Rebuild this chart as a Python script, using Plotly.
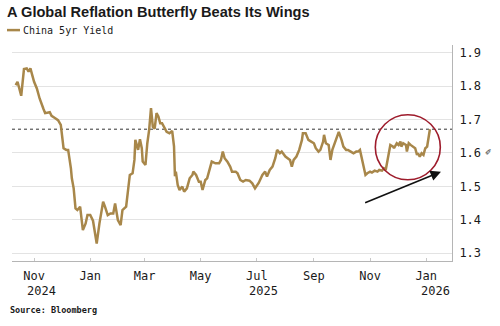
import plotly.graph_objects as go

TITLE = "A Global Reflation Butterfly Beats Its Wings"
SERIES_NAME = "China 5yr Yield"
SOURCE = "Source: Bloomberg"

dates = [
    "2024-10-12", "2024-10-14", "2024-10-18", "2024-10-21", "2024-10-24", "2024-10-26", "2024-10-28",
    "2024-11-01", "2024-11-04", "2024-11-07", "2024-11-11", "2024-11-13", "2024-11-18", "2024-11-20",
    "2024-11-24", "2024-11-27", "2024-11-30", "2024-12-03", "2024-12-06", "2024-12-08", "2024-12-11",
    "2024-12-12", "2024-12-14", "2024-12-16", "2024-12-18", "2024-12-21", "2024-12-24", "2024-12-27",
    "2024-12-29", "2025-01-01", "2025-01-04", "2025-01-08", "2025-01-11", "2025-01-15", "2025-01-17",
    "2025-01-20", "2025-01-23", "2025-01-26", "2025-01-28", "2025-01-31", "2025-02-03", "2025-02-05",
    "2025-02-09", "2025-02-11", "2025-02-13", "2025-02-16", "2025-02-18", "2025-02-19", "2025-02-22",
    "2025-02-24", "2025-02-26", "2025-02-27", "2025-03-02", "2025-03-04", "2025-03-06", "2025-03-08",
    "2025-03-10", "2025-03-12", "2025-03-14", "2025-03-16", "2025-03-18", "2025-03-20", "2025-03-23",
    "2025-03-25", "2025-03-28", "2025-03-31", "2025-04-02", "2025-04-03", "2025-04-04", "2025-04-06",
    "2025-04-08", "2025-04-11", "2025-04-13", "2025-04-16", "2025-04-19", "2025-04-22", "2025-04-23",
    "2025-04-26", "2025-04-29", "2025-05-01", "2025-05-03", "2025-05-06", "2025-05-08", "2025-05-11",
    "2025-05-13", "2025-05-17", "2025-05-21", "2025-05-23", "2025-05-25", "2025-05-27", "2025-05-30",
    "2025-06-02", "2025-06-04", "2025-06-08", "2025-06-10", "2025-06-13", "2025-06-16", "2025-06-19",
    "2025-06-23", "2025-06-26", "2025-06-29", "2025-07-03", "2025-07-07", "2025-07-10", "2025-07-12",
    "2025-07-15", "2025-07-18", "2025-07-21", "2025-07-23", "2025-07-26", "2025-07-28", "2025-08-01",
    "2025-08-03", "2025-08-06", "2025-08-08", "2025-08-10", "2025-08-13", "2025-08-16", "2025-08-19",
    "2025-08-20", "2025-08-23", "2025-08-26", "2025-08-29", "2025-09-01", "2025-09-03", "2025-09-06",
    "2025-09-08", "2025-09-11", "2025-09-12", "2025-09-14", "2025-09-17", "2025-09-19", "2025-09-21",
    "2025-09-23", "2025-09-26", "2025-09-28", "2025-10-01", "2025-10-03", "2025-10-06", "2025-10-08",
    "2025-10-11", "2025-10-14", "2025-10-17", "2025-10-19", "2025-10-21", "2025-10-23", "2025-10-25",
    "2025-10-27", "2025-10-29", "2025-11-01", "2025-11-03", "2025-11-06", "2025-11-09", "2025-11-11",
    "2025-11-14", "2025-11-16", "2025-11-18", "2025-11-20", "2025-11-22", "2025-11-23", "2025-11-26",
    "2025-11-27", "2025-11-30", "2025-12-02", "2025-12-04", "2025-12-05", "2025-12-07", "2025-12-10",
    "2025-12-11", "2025-12-13", "2025-12-15", "2025-12-17", "2025-12-20", "2025-12-22", "2025-12-23",
    "2025-12-25", "2025-12-27", "2025-12-29", "2025-12-31", "2026-01-02", "2026-01-03", "2026-01-05",
]

yields = [
    1.803, 1.813, 1.771, 1.851, 1.853, 1.843, 1.853,
    1.813, 1.793, 1.763, 1.733, 1.719, 1.722, 1.711,
    1.704, 1.698, 1.684, 1.614, 1.609, 1.609, 1.554,
    1.524, 1.494, 1.434, 1.429, 1.439, 1.369, 1.389,
    1.414, 1.414, 1.397, 1.329, 1.389, 1.454, 1.439,
    1.414, 1.419, 1.419, 1.449, 1.399, 1.384, 1.429,
    1.439, 1.489, 1.534, 1.539, 1.579, 1.639, 1.609,
    1.641, 1.614, 1.574, 1.564, 1.629, 1.669, 1.734,
    1.678, 1.673, 1.719, 1.709, 1.689, 1.689, 1.673,
    1.663, 1.659, 1.666, 1.620, 1.530, 1.544, 1.504,
    1.489, 1.499, 1.484, 1.494, 1.524, 1.534, 1.544,
    1.534, 1.514, 1.514, 1.489, 1.519, 1.524, 1.554,
    1.574, 1.569, 1.569, 1.579, 1.604, 1.584, 1.574,
    1.559, 1.544, 1.544, 1.539, 1.519, 1.514, 1.519,
    1.517, 1.509, 1.494, 1.510, 1.534, 1.544, 1.529,
    1.549, 1.559, 1.584, 1.609, 1.599, 1.604, 1.589,
    1.584, 1.579, 1.559, 1.579, 1.589, 1.609, 1.639,
    1.659, 1.659, 1.639, 1.634, 1.629, 1.614, 1.604,
    1.609, 1.634, 1.654, 1.629, 1.624, 1.579, 1.609,
    1.624, 1.644, 1.663, 1.639, 1.619, 1.609, 1.609,
    1.604, 1.599, 1.604, 1.604, 1.609, 1.584, 1.549,
    1.534, 1.539, 1.544, 1.541, 1.547, 1.544, 1.549,
    1.547, 1.554, 1.549, 1.584, 1.609, 1.624, 1.619,
    1.614, 1.629, 1.624, 1.634, 1.619, 1.629, 1.624,
    1.604, 1.629, 1.624, 1.619, 1.614, 1.594, 1.599,
    1.589, 1.599, 1.594, 1.614, 1.619, 1.639, 1.671,
]

x_tick_vals = ["2024-11-01", "2025-01-01", "2025-03-01", "2025-05-01", "2025-07-01",
               "2025-09-01", "2025-11-01", "2026-01-01"]
x_tick_text = ["Nov", "Jan", "Mar", "May", "Jul", "Sep", "Nov", "Jan"]
year_labels = [("2024-11-01", "2024"), ("2025-07-01", "2025"), ("2026-01-01", "2026")]
y_tick_vals = [1.3, 1.4, 1.5, 1.6, 1.7, 1.8, 1.9]

x_range = ["2024-10-08", "2026-01-29"]
y_range = [1.2765, 1.923]

LINE_COLOR = "#a8874a"
MONO = "DejaVu Sans Mono"
TEXT = "#1a1a1a"

fig = go.Figure()
fig.add_trace(go.Scatter(
    x=dates, y=yields, mode="lines", name=SERIES_NAME,
    line=dict(color=LINE_COLOR, width=2.5), showlegend=False,
))

last_val = yields[-1]
shapes = [
    dict(type="line", xref="paper", x0=0, x1=1, yref="y", y0=last_val, y1=last_val,
         line=dict(color="#333333", width=1, dash="dot"), layer="below"),
    dict(type="circle", xref="x", yref="y", xsizemode="pixel", ysizemode="pixel",
         xanchor="2025-12-12", yanchor=1.617, x0=-32.5, x1=32.5, y0=-32.5, y1=32.5,
         line=dict(color="#9e1c2c", width=1.6)),
    dict(type="line", xref="paper", yref="paper", x0=-0.0114, x1=0.0182, y0=1.069, y1=1.069,
         line=dict(color=LINE_COLOR, width=2.5)),
]

annotations = [
    dict(text="<b>" + TITLE + "</b>", xref="paper", yref="paper", x=-0.017, y=1.153,
         xanchor="left", yanchor="middle", showarrow=False,
         font=dict(family="Liberation Sans", size=14.6, color=TEXT)),
    dict(text=SERIES_NAME, xref="paper", yref="paper", x=0.0215, y=1.069,
         xanchor="left", yanchor="middle", showarrow=False,
         font=dict(family=MONO, size=10, color=TEXT)),
    dict(text="<b>" + SOURCE + "</b>", xref="paper", yref="paper", x=-0.0095, y=-0.227,
         xanchor="left", yanchor="middle", showarrow=False,
         font=dict(family=MONO, size=8.5, color=TEXT)),
    dict(x="2026-01-17", y=1.544, ax="2025-10-25", ay=1.449, xref="x", yref="y",
         axref="x", ayref="y", showarrow=True, arrowhead=2, arrowsize=1.3,
         arrowwidth=1.6, arrowcolor="#111111", text=""),
    dict(text="✐", xref="paper", yref="y", x=1.07, y=1.6, xanchor="left", yanchor="middle",
         showarrow=False, font=dict(family="DejaVu Sans", size=8, color="#333333")),
]
for i, (d, yr) in enumerate(year_labels):
    if i == len(year_labels) - 1:
        annotations.append(dict(text=yr, xref="paper", yref="paper", x=1.0, y=-0.141,
                                xanchor="right", yanchor="middle", showarrow=False,
                                font=dict(family=MONO, size=12, color=TEXT)))
    else:
        annotations.append(dict(text=yr, xref="x", yref="paper", x=d, y=-0.141, xshift=-9.5,
                                xanchor="left", yanchor="middle", showarrow=False,
                                font=dict(family=MONO, size=12, color=TEXT)))

fig.update_layout(
    width=500, height=326,
    margin=dict(l=12, r=48.3, t=45, b=65),
    paper_bgcolor="white", plot_bgcolor="white",
    shapes=shapes, annotations=annotations,
    showlegend=False,
    xaxis=dict(
        type="date", range=x_range, tickvals=x_tick_vals, ticktext=x_tick_text,
        showgrid=False, zeroline=False, showline=True, linecolor="#b5b5b5", linewidth=1,
        ticks="inside", ticklen=3, tickcolor="#c8c8c8",
        tickfont=dict(family=MONO, size=12, color=TEXT), ticklabelstandoff=4,
    ),
    yaxis=dict(
        side="right", range=y_range, tickvals=y_tick_vals, tickformat=".1f",
        showgrid=True, gridcolor="#e3e3e3", gridwidth=1, zeroline=False,
        showline=True, linecolor="#b5b5b5", linewidth=1, ticks="",
        tickfont=dict(family=MONO, size=12, color=TEXT), ticklabelstandoff=4,
    ),
)

fig.write_html("out.html")
